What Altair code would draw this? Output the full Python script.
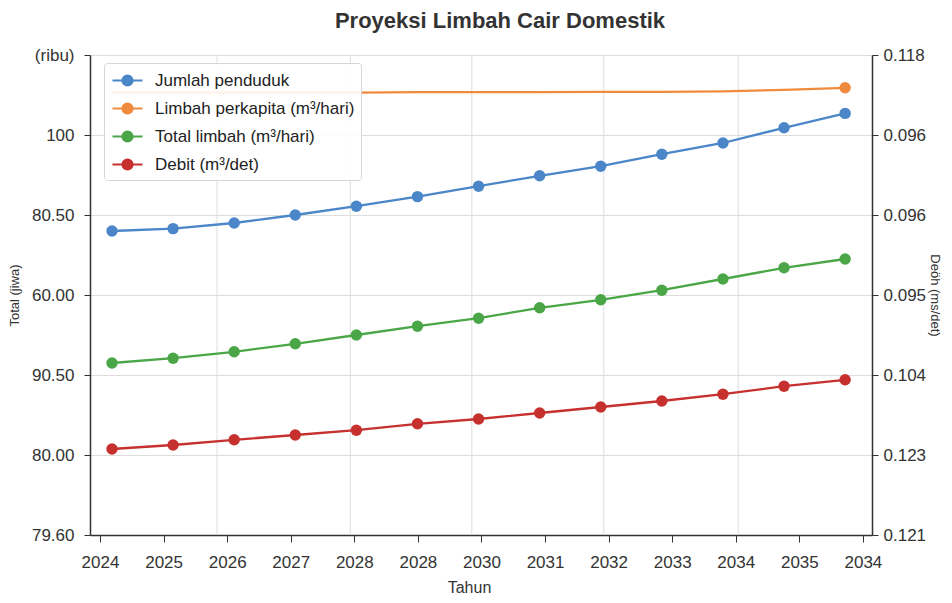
import altair as alt
import pandas as pd

# ---- data (y in tick-step units, 0 = bottom tick, 6 = top tick) ----
series_names = ["Jumlah penduduk", "Limbah perkapita (m³/hari)", "Total limbah (m³/hari)", "Debit (m³/det)"]
series_colors = ["#4a86c8", "#f08a3c", "#4aa646", "#c6302e"]

penduduk = [3.80, 3.83, 3.90, 4.00, 4.11, 4.23, 4.36, 4.49, 4.61, 4.76, 4.90, 5.09, 5.27]
perkapita = [5.53, 5.53, 5.53, 5.53, 5.53, 5.535, 5.535, 5.535, 5.54, 5.54, 5.545, 5.565, 5.59]
total = [2.15, 2.21, 2.29, 2.39, 2.50, 2.61, 2.71, 2.84, 2.94, 3.06, 3.20, 3.34, 3.45]
debit = [1.075, 1.125, 1.19, 1.25, 1.31, 1.39, 1.45, 1.525, 1.60, 1.675, 1.76, 1.86, 1.94]

x_labels = ["2024", "2025", "2026", "2027", "2028", "2028", "2030", "2031", "2032", "2033", "2034", "2035", "2034"]
left_labels = ["79.60", "80.00", "90.50", "60.00", "80.50", "100", "(ribu)"]
right_labels = ["0.121", "0.123", "0.104", "0.095", "0.096", "0.096", "0.118"]

n = len(x_labels)
rows = []
for name, vals in zip(series_names, [penduduk, perkapita, total, debit]):
    for i, v in enumerate(vals):
        rows.append({"series": name, "idx": i, "value": v,
                     "marker": (name != series_names[1]) or (i == n - 1)})
df = pd.DataFrame(rows)

# tick positions (layout)
x_tick_vals = [-0.196 + 1.0406 * j for j in range(n)]
grid_x = pd.DataFrame({"gx": [1.72, 3.90, 5.89, 8.05, 10.25]})

x_scale = alt.Scale(domain=[-0.36, 12.44], nice=False, zero=False)
y_scale = alt.Scale(domain=[0, 6], nice=False, zero=False)
color_scale = alt.Scale(domain=series_names, range=series_colors)

FONT = "Liberation Sans"

x_axis = alt.Axis(values=x_tick_vals, grid=False, title="Tahun", titleX=379,
                  labelExpr="[" + ",".join(f"'{l}'" for l in x_labels) + "][round((datum.value+0.196)/1.0406)]",
                  labelFontSize=17, labelColor="#333", labelPadding=12, tickSize=7, tickColor="#333",
                  domainColor="#333", domainWidth=1.5, titleFontSize=16, titleFontWeight="normal",
                  titleColor="#333", titlePadding=9, labelFont=FONT, titleFont=FONT)

left_axis = alt.Axis(values=list(range(7)), orient="left", title="Total (jiwa)",
                     labelExpr="[" + ",".join(f"'{l}'" for l in left_labels) + "][round(datum.value)]",
                     labelFontSize=17, labelColor="#333", labelPadding=10, tickSize=6, tickColor="#333",
                     domainColor="#333", domainWidth=1.5, grid=True, gridColor="#dddddd",
                     titleFontSize=13, titleFontWeight="normal", titleColor="#333", titlePadding=10,
                     labelFont=FONT, titleFont=FONT)

right_axis = alt.Axis(values=list(range(7)), orient="right", title="Deöh (ms/det)",
                      labelExpr="[" + ",".join(f"'{l}'" for l in right_labels) + "][round(datum.value)]",
                      labelFontSize=17, labelColor="#333", labelPadding=5, tickSize=6, tickColor="#333",
                      domainColor="#333", domainWidth=1.5, grid=False,
                      titleFontSize=13, titleFontWeight="normal", titleColor="#333", titlePadding=2,
                      labelFont=FONT, titleFont=FONT)

legend = alt.Legend(title=None, orient="none", legendX=14, legendY=8,
                    symbolType="M-0.9,0L2.1,0M1.1,0A0.5,0.5,0,1,1,0.1,0A0.5,0.5,0,1,1,1.1,0",
                    symbolSize=400, symbolStrokeWidth=2.2, labelFontSize=17, labelColor="#222",
                    labelFont=FONT, labelLimit=400, rowPadding=7, padding=6,
                    fillColor="rgba(255,255,255,0.88)",
                    strokeColor="#d6d6d6", cornerRadius=3, labelOffset=22, symbolOpacity=1)

grid = alt.Chart(grid_x).mark_rule(color="#dddddd", strokeWidth=1).encode(
    x=alt.X("gx:Q", scale=x_scale, axis=x_axis))

points = alt.Chart(df).transform_filter("datum.marker").mark_circle(size=130, opacity=1).encode(
    x=alt.X("idx:Q", scale=x_scale, axis=x_axis),
    y=alt.Y("value:Q", scale=y_scale, axis=left_axis),
    color=alt.Color("series:N", scale=color_scale, sort=series_names, legend=legend),
)

lines = alt.Chart(df).mark_line(strokeWidth=2.3).encode(
    x=alt.X("idx:Q", scale=x_scale, axis=x_axis),
    y=alt.Y("value:Q", scale=y_scale, axis=left_axis),
    color=alt.Color("series:N", scale=color_scale, sort=series_names, legend=legend),
)

right = alt.Chart(df).mark_point(opacity=0).encode(
    x=alt.X("idx:Q", scale=x_scale, axis=x_axis),
    y=alt.Y("value:Q", scale=y_scale, axis=right_axis),
)

left_layer = alt.layer(grid, points, lines)
chart = alt.layer(left_layer, right).resolve_scale(y="independent").properties(
    width=782, height=480,
    title=alt.Title("Proyeksi Limbah Cair Domestik", fontSize=22, font=FONT, fontWeight="bold",
                    color="#333", anchor="middle", dx=19, offset=13),
    autosize=alt.AutoSizeParams(type="none"),
    padding={"left": 82, "top": 47, "right": 72, "bottom": 60},
).configure_view(stroke=None).configure(background="white")

chart.save("out.html", embed_options={"renderer": "svg", "actions": False})
